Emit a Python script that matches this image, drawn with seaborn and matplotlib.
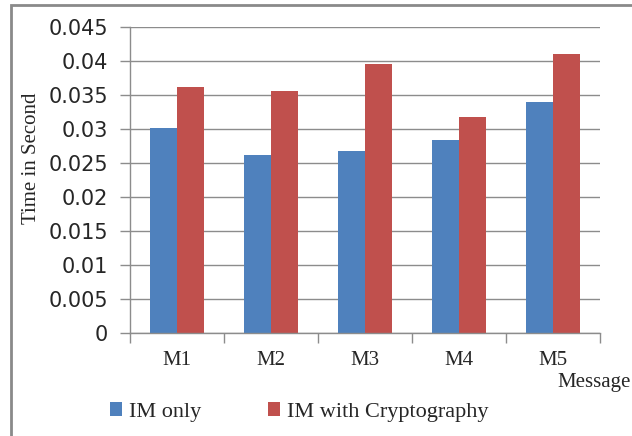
import matplotlib
matplotlib.use("Agg")
import matplotlib.pyplot as plt
from matplotlib.patches import Rectangle
import seaborn as sns
import pandas as pd

messages = ["M1", "M2", "M3", "M4", "M5"]
im_only = [0.0302, 0.0262, 0.0267, 0.0284, 0.0340]
im_crypto = [0.0361, 0.0355, 0.0395, 0.0318, 0.0410]
series = ["IM only", "IM with Cryptography"]
colors = ["#4F81BD", "#C0504D"]

df = pd.DataFrame({
    "Message": messages * 2,
    "Time": im_only + im_crypto,
    "Series": [series[0]] * len(messages) + [series[1]] * len(messages),
})

sns.set_style("white")
serif = ["Liberation Serif", "DejaVu Serif"]
grid_col = "#8c8c8c"

fig = plt.figure(figsize=(6.32, 4.36), dpi=100)
ax = fig.add_axes([130 / 632, 1 - 333.3 / 436, 470 / 632, (333.3 - 26.7) / 436])

sns.barplot(data=df, x="Message", y="Time", hue="Series", palette=colors,
            width=0.58, saturation=1, linewidth=0, ax=ax, legend=True)

ax.set_ylim(0, 0.045)
ax.set_yticks([i * 0.005 for i in range(10)])
ax.set_yticklabels(["0", "0.005", "0.01", "0.015", "0.02", "0.025", "0.03",
                    "0.035", "0.04", "0.045"], family="DejaVu Sans", fontsize=15)
ax.set_xlim(-0.5, 4.5)
ax.set_xticks(range(5))
ax.set_xticklabels(messages, family=serif, fontsize=15)
ax.set_xticks([i - 0.5 for i in range(6)], minor=True)
ax.tick_params(axis="x", which="major", length=0, pad=13)
ax.tick_params(axis="x", which="minor", bottom=True, direction="out",
               length=7, color=grid_col, width=1)
ax.tick_params(axis="y", left=True, direction="out", length=7,
               color=grid_col, width=1, pad=9)

ax.yaxis.grid(True, color=grid_col, linewidth=1)
ax.set_axisbelow(True)
for side in ["top", "right"]:
    ax.spines[side].set_visible(False)
for side in ["left", "bottom"]:
    ax.spines[side].set_color(grid_col)
    ax.spines[side].set_linewidth(1)

ax.set_xlabel("")
ax.set_ylabel("Time in Second", family=serif, fontsize=15)
ax.yaxis.set_label_coords(-0.19, 0.572)
fig.text(557 / 632, 1 - 382 / 436, "Message", family=serif, fontsize=15,
         ha="left", va="center")

handles, labels = ax.get_legend_handles_labels()
ax.get_legend().remove()
fig.legend(handles, labels, loc="center left", bbox_to_anchor=(101 / 632, 1 - 412 / 436),
           ncol=2, frameon=False, prop={"family": serif, "size": 16},
           handlelength=0.55, handleheight=0.55, handletextpad=0.3,
           columnspacing=3.0, borderaxespad=0)

fig.patches.append(Rectangle((11 / 632, -0.1), 1.2, 1.1 - 5 / 436,
                             transform=fig.transFigure, fill=False,
                             edgecolor="#8a8a8a", linewidth=2))

fig.savefig("out.png", dpi=100)
